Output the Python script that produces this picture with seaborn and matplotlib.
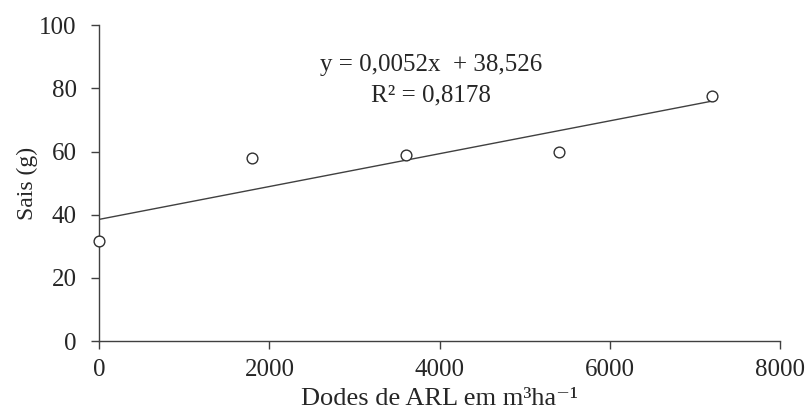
import numpy as np
import pandas as pd
import matplotlib
matplotlib.use("Agg")
import matplotlib.pyplot as plt
import seaborn as sns

# Data
doses = [0, 1800, 3600, 5400, 7200]
sais = [31.7, 58, 59, 60, 77.6]
slope = 0.0052
intercept = 38.526
r2_label = "0,8178"

df = pd.DataFrame({"dose": doses, "sais": sais})
fit = pd.DataFrame({"dose": [doses[0], doses[-1]]})
fit["sais"] = slope * fit["dose"] + intercept

sns.set_style("white")
plt.rcParams["font.family"] = ["Liberation Serif", "DejaVu Serif"]

fig = plt.figure(figsize=(8.12, 4.12), dpi=100)
ax = fig.add_axes([0.122, 0.172, 0.839, 0.767])

sns.lineplot(data=fit, x="dose", y="sais", ax=ax, color="#404040", linewidth=1)
sns.scatterplot(data=df, x="dose", y="sais", ax=ax, s=60, facecolor="white",
                edgecolor="#303030", linewidth=1, zorder=3, clip_on=False)

ax.text(3900, 87.5, "y = 0,0052x  + 38,526", ha="center", va="center", fontsize=18)
ax.text(3900, 77.8, "R² = " + r2_label, ha="center", va="center", fontsize=18)

ax.set_xlim(0, 8000)
ax.set_ylim(0, 100)
ax.set_xticks(range(0, 8001, 2000))
ax.set_yticks(range(0, 101, 20))
ax.tick_params(axis="both", direction="out", length=6, width=1, color="#404040",
               labelsize=18, bottom=True, left=True)
ax.tick_params(axis="y", pad=10)
ax.tick_params(axis="x", pad=7)
for side in ["top", "right"]:
    ax.spines[side].set_visible(False)
for side in ["left", "bottom"]:
    ax.spines[side].set_color("#404040")
    ax.spines[side].set_linewidth(1)

ax.set_xlabel("Dodes de ARL em m³ha⁻¹", fontsize=19, labelpad=5)
ax.set_ylabel("Sais (g)", fontsize=17, labelpad=1)

fig.savefig("out.png", dpi=100)
